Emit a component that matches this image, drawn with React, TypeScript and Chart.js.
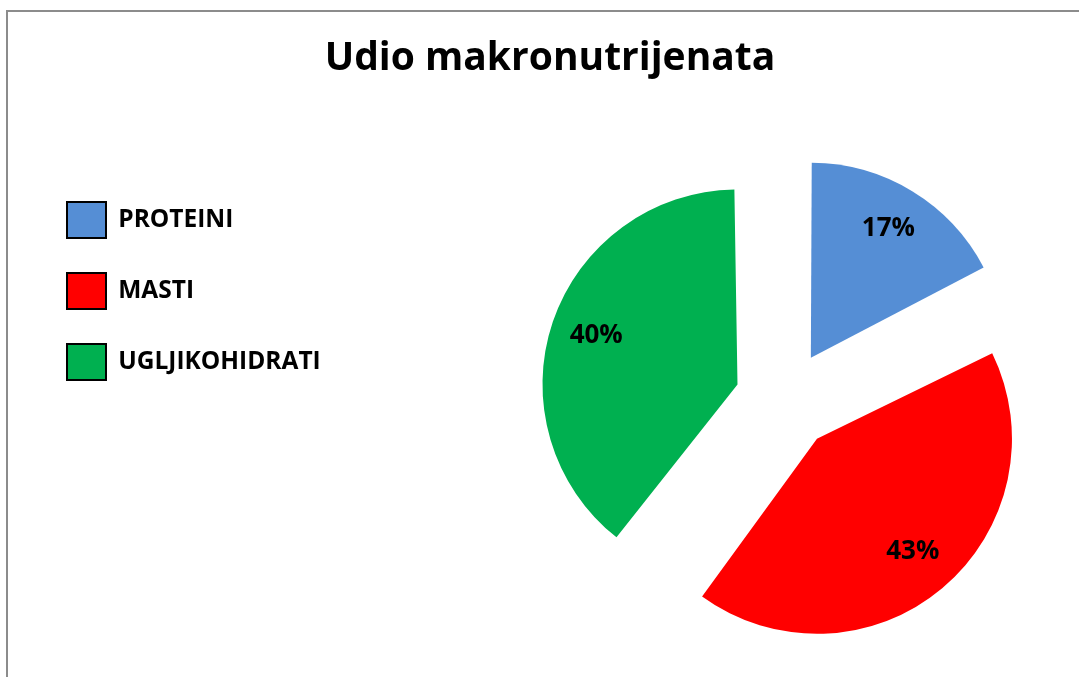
import React, { useEffect, useRef } from "react";
import { Chart, registerables } from "chart.js";

Chart.register(...registerables);

const TITLE = "Udio makronutrijenata";
const categories = ["PROTEINI", "MASTI", "UGLJIKOHIDRATI"];
const shares = [17.4, 43.0, 39.6];
const colors = ["#558ED5", "#FF0000", "#00B050"];

const FONT = "'Open Sans', sans-serif";
const CANVAS_H = 677;
const PIE_CX = 785;
const RADIUS = 195;
const EXPLODE = 200; // Chart.js moves a slice by offset / 4
const LEGEND_LEFT = 32;
const LEGEND_PAD = 35;
const BOX_W = 39;
const BOX_H = 36;
const LEGEND_FONT = 24.5;

export default function App() {
  const ref = useRef<HTMLCanvasElement>(null);

  useEffect(() => {
    const canvas = ref.current;
    if (!canvas) return;
    const total = shares.reduce((a, b) => a + b, 0);

    // size the canvas so that the chart area is centred on PIE_CX
    const mctx = document.createElement("canvas").getContext("2d")!;
    mctx.font = `bold ${LEGEND_FONT}px ${FONT}`;
    const textW = Math.max(...categories.map((c) => mctx.measureText(c).width));
    const legendW = LEGEND_PAD + BOX_W + LEGEND_FONT / 2 + textW + 10;
    const areaLeft = LEGEND_LEFT + legendW;
    canvas.width = Math.round(2 * PIE_CX - areaLeft);
    canvas.height = CANVAS_H;

    const decor = {
      id: "decor",
      afterDatasetUpdate(chart: any, args: any) {
        // keep every exploded slice at the same radius
        const meta = chart.getDatasetMeta(args.index);
        meta.data.forEach((arc: any) => {
          const off = (arc.options?.offset || 0) / 4;
          const fix = 1 - Math.sin(Math.min(Math.PI, arc.circumference || 0));
          arc.outerRadius = RADIUS - off * fix;
        });
      },
      beforeDraw(chart: any) {
        const ctx = chart.ctx;
        ctx.save();
        ctx.fillStyle = "#ffffff";
        ctx.fillRect(0, 0, chart.width, chart.height);
        ctx.fillStyle = "#8c8c8c";
        ctx.fillRect(6, 10, 2, chart.height);
        ctx.fillRect(6, 10, chart.width, 2);
        ctx.fillStyle = "#000000";
        ctx.font = `bold 39px ${FONT}`;
        ctx.textAlign = "center";
        ctx.textBaseline = "alphabetic";
        ctx.fillText(TITLE, 550, 70);
        ctx.restore();
      },
      afterDatasetsDraw(chart: any) {
        const ctx = chart.ctx;
        const meta = chart.getDatasetMeta(0);
        ctx.save();
        ctx.fillStyle = "#000000";
        ctx.font = `bold 26px ${FONT}`;
        ctx.textAlign = "center";
        ctx.textBaseline = "alphabetic";
        meta.data.forEach((arc: any, i: number) => {
          const { x, y, startAngle, endAngle } = arc;
          const off = (arc.options.offset || 0) / 4;
          const mid = (startAngle + endAngle) / 2;
          const d = off + 0.765 * RADIUS;
          const px = x + Math.cos(mid) * d;
          const py = y + Math.sin(mid) * d;
          const txt = Math.round((shares[i] / total) * 100) + "%";
          ctx.fillText(txt, px, py + 6);
        });
        ctx.restore();
      },
    };

    const chart = new Chart(canvas, {
      type: "pie",
      data: {
        labels: categories,
        datasets: [
          {
            data: shares,
            backgroundColor: colors,
            borderWidth: 0,
            offset: EXPLODE,
            hoverOffset: 0,
            radius: RADIUS,
          } as any,
        ],
      },
      options: {
        responsive: false,
        animation: false,
        events: [],
        layout: { padding: { left: LEGEND_LEFT, top: 167, right: 0, bottom: 43 } },
        plugins: {
          title: { display: false },
          tooltip: { enabled: false },
          legend: {
            position: "left",
            align: "start",
            labels: {
              boxWidth: BOX_W,
              boxHeight: BOX_H,
              padding: LEGEND_PAD,
              color: "#000000",
              font: { family: FONT, size: LEGEND_FONT, weight: "bold" },
              generateLabels: () =>
                categories.map((c, i) => ({
                  text: c,
                  fillStyle: colors[i],
                  strokeStyle: "#000000",
                  lineWidth: 2,
                  hidden: false,
                  index: i,
                  fontColor: "#000000",
                })),
            },
          },
        },
      } as any,
      plugins: [decor],
    });

    return () => chart.destroy();
  }, []);

  return (
    <div
      style={{
        position: "fixed",
        left: 0,
        top: 0,
        width: 1079,
        height: 677,
        overflow: "hidden",
        background: "#ffffff",
      }}
    >
      <canvas ref={ref} style={{ display: "block" }} />
    </div>
  );
}
